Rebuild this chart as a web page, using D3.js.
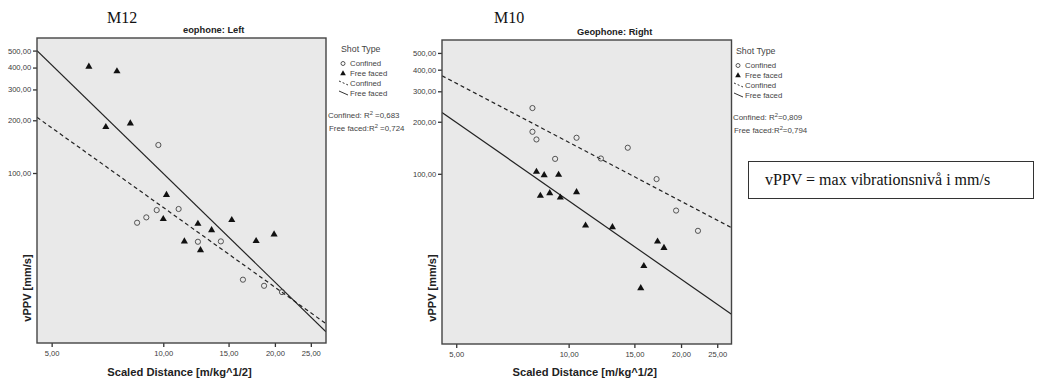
<!DOCTYPE html>
<html><head><meta charset="utf-8">
<script src="https://cdn.jsdelivr.net/npm/d3@7"></script>
<style>body{margin:0;background:#fff}svg{display:block}</style>
</head><body>
<svg id="c" width="1040" height="382"></svg>
<script>
// ---------- data ----------
const xTicks = [5, 10, 15, 20, 25];
const yTicks = [100, 200, 300, 400, 500];

// Left panel (M12, Geophone: Left)
const leftConfined = [[9.7,144.5],[8.5,52],[9.0,55.8],[9.6,61.4],[11.0,62.3],[12.4,40.5],[14.3,40.7],[16.4,24.6],[18.7,22.7],[20.9,20.9]];
const leftFree = [[6.3,405],[7.5,381],[7.0,183],[8.15,192],[10.2,75],[10.0,54.6],[12.4,51.3],[15.3,53.9],[13.5,47.2],[11.4,40.7],[12.6,36.3],[17.8,40.9],[19.9,44.6]];
const leftFitConfined = [[4.565,208],[27.47,13.8]];
const leftFitFree = [[4.565,500],[27.47,12.4]];
const leftR2 = ["0,683","0,724"];

// Right panel (M10, Geophone: Right)
const rightConfined = [[8.0,240],[8.0,175],[8.2,158],[10.5,161.6],[9.2,122],[12.2,122.6],[14.4,141.5],[17.2,93.2],[19.4,61.3],[22.2,46.8]];
const rightFree = [[8.2,102.7],[8.6,98.3],[9.4,98.7],[8.4,74.6],[8.9,77.3],[9.5,72.9],[10.5,78.4],[11.1,50.2],[13.1,49.1],[17.3,40.6],[18.0,37.3],[15.9,29.3],[15.6,21.8]];
const rightFitConfined = [[4.58,369],[27.3,48.8]];
const rightFitFree = [[4.58,226.5],[27.3,15.4]];
const rightR2 = ["0,809","0,794"];

const legendLabels = ["Confined","Free faced"];

// ---------- drawing ----------
const svg = d3.select("#c");
const fmt = v => d3.format(".2f")(v).replace(".", ",");
const sans = "'Liberation Sans', Arial, sans-serif";
const serif = "'Liberation Serif', 'Times New Roman', serif";

function panel(o){
  const x = d3.scaleLog().domain(o.xDom).range([o.x0, o.x1]);
  const y = d3.scaleLog().domain(o.yDom).range([o.y1, o.y0]);
  const g = svg.append("g");
  g.append("rect").attr("x", o.x0).attr("y", o.y0).attr("width", o.x1-o.x0).attr("height", o.y1-o.y0)
    .attr("fill", "#e9e9e9");
  // axes
  const ax = g.append("g").attr("transform", `translate(0,${o.y1})`)
    .call(d3.axisBottom(x).tickValues(xTicks).tickFormat(fmt).tickSize(4).tickSizeOuter(0));
  const ay = g.append("g").attr("transform", `translate(${o.x0},0)`)
    .call(d3.axisLeft(y).tickValues(yTicks).tickFormat(fmt).tickSize(4).tickSizeOuter(0));
  [ax, ay].forEach(a => {
    a.select(".domain").remove();
    a.selectAll("line").attr("stroke", "#333").attr("stroke-width", 1.3);
    a.selectAll("text").attr("font-family", sans).attr("font-size", 7.6).attr("fill", "#3a3a3a");
  });
  ax.selectAll("text").attr("dy", "0.85em");
  ay.selectAll("text").attr("dx", "0.15em");
  // clip for lines
  const cid = "clip" + o.id;
  svg.append("clipPath").attr("id", cid).append("rect")
    .attr("x", o.x0).attr("y", o.y0).attr("width", o.x1-o.x0).attr("height", o.y1-o.y0);
  const line = d3.line().x(d => x(d[0])).y(d => y(d[1]));
  g.append("path").datum(o.fitConf).attr("d", line).attr("clip-path", `url(#${cid})`)
    .attr("fill", "none").attr("stroke", "#222").attr("stroke-width", 1.2).attr("stroke-dasharray", "4,3");
  g.append("path").datum(o.fitFree).attr("d", line).attr("clip-path", `url(#${cid})`)
    .attr("fill", "none").attr("stroke", "#222").attr("stroke-width", 1.2);
  // points
  g.selectAll(".c").data(o.conf).join("circle")
    .attr("cx", d => x(d[0])).attr("cy", d => y(d[1])).attr("r", 2.6)
    .attr("fill", "none").attr("stroke", "#444").attr("stroke-width", 0.9);
  const tri = d3.symbol().type(d3.symbolTriangle).size(22);
  g.selectAll(".t").data(o.free).join("path")
    .attr("transform", d => `translate(${x(d[0])},${y(d[1])})`).attr("d", tri).attr("fill", "#111");
  // frame
  g.append("rect").attr("x", o.x0).attr("y", o.y0).attr("width", o.x1-o.x0).attr("height", o.y1-o.y0)
    .attr("fill", "none").attr("stroke", "#444").attr("stroke-width", 1.4);
  // title
  g.append("text").attr("x", o.titleX).attr("y", o.y0 - 5).attr("font-family", sans).attr("font-weight", "bold")
    .attr("font-size", 9.3).attr("fill", "#222").text(o.title);
  g.append("text").attr("x", o.mX).attr("y", 23).attr("font-family", serif).attr("font-size", 16).attr("fill", "#111").text(o.mLabel);
  // axis titles
  g.append("text").attr("x", (o.x0+o.x1)/2 - 2).attr("y", 376).attr("text-anchor", "middle")
    .attr("font-family", sans).attr("font-weight", "bold").attr("font-size", 11.2).attr("fill", "#222")
    .text("Scaled Distance [m/kg^1/2]");
  g.append("text").attr("transform", `translate(${o.x0-6},288) rotate(-90)`).attr("text-anchor", "middle")
    .attr("font-family", sans).attr("font-weight", "bold").attr("font-size", 11).attr("fill", "#222")
    .text("vPPV [mm/s]");
  // legend
  const L = g.append("g").attr("font-family", sans).attr("fill", "#444");
  L.append("text").attr("x", o.lx + 2).attr("y", o.ly).attr("font-size", 8.8).text("Shot Type");
  const rows = [o.ly + 14, o.ly + 24, o.ly + 34, o.ly + 44];
  L.append("circle").attr("cx", o.lx + 4).attr("cy", rows[0] - 2.5).attr("r", 2)
    .attr("fill", "none").attr("stroke", "#444").attr("stroke-width", 0.9);
  L.append("path").attr("transform", `translate(${o.lx + 4},${rows[1] - 2.5})`)
    .attr("d", d3.symbol().type(d3.symbolTriangle).size(14)).attr("fill", "#111");
  L.append("line").attr("x1", o.lx).attr("y1", rows[2] - 5).attr("x2", o.lx + 9).attr("y2", rows[2] - 1)
    .attr("stroke", "#333").attr("stroke-width", 1).attr("stroke-dasharray", "2,2");
  L.append("line").attr("x1", o.lx).attr("y1", rows[3] - 5).attr("x2", o.lx + 9).attr("y2", rows[3] - 1)
    .attr("stroke", "#333").attr("stroke-width", 1);
  [0,1,2,3].forEach(i => {
    L.append("text").attr("x", o.lx + 11).attr("y", rows[i]).attr("font-size", 7.8).text(legendLabels[i % 2]);
  });
  const r1 = L.append("text").attr("x", o.rx).attr("y", o.ly + 66).attr("font-size", 7.9);
  r1.append("tspan").text("Confined: R");
  r1.append("tspan").attr("font-size", 5.8).attr("dy", -3).text("2");
  r1.append("tspan").attr("dy", 3).text(o.sp + "=" + o.r2[0]);
  const r2 = L.append("text").attr("x", o.rx + 1).attr("y", o.ly + 79).attr("font-size", 7.9);
  r2.append("tspan").text("Free faced:R");
  r2.append("tspan").attr("font-size", 5.8).attr("dy", -3).text("2");
  r2.append("tspan").attr("dy", 3).text(o.sp + "=" + o.r2[1]);
}

panel({id:"L", x0:37, x1:326, y0:38, y1:343, xDom:[4.565,27.47], yDom:[10.7,590],
  conf:leftConfined, free:leftFree, fitConf:leftFitConfined, fitFree:leftFitFree,
  title:"eophone: Left", titleX:183, mLabel:"M12", mX:107, lx:339, ly:52, rx:328, r2:leftR2, sp:" "});
panel({id:"R", x0:442, x1:731.5, y0:40, y1:344, xDom:[4.58,27.3], yDom:[10.37,594],
  conf:rightConfined, free:rightFree, fitConf:rightFitConfined, fitFree:rightFitFree,
  title:"Geophone: Right", titleX:577, mLabel:"M10", mX:494, lx:734, ly:54, rx:733, r2:rightR2, sp:""});

// note box
svg.append("rect").attr("x", 748.5).attr("y", 161.5).attr("width", 285).attr("height", 37)
  .attr("fill", "#fff").attr("stroke", "#333").attr("stroke-width", 1);
svg.append("text").attr("x", 765).attr("y", 185).attr("font-family", serif).attr("font-size", 16)
  .attr("fill", "#111").text("vPPV = max vibrationsnivå i mm/s");
</script>
</body></html>
